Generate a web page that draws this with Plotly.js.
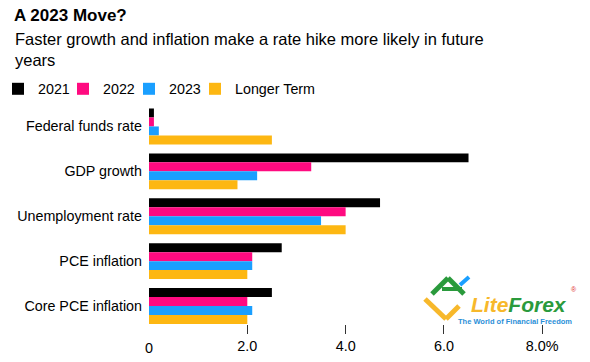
<!DOCTYPE html>
<html>
<head>
<meta charset="utf-8">
<script src="https://cdn.plot.ly/plotly-3.0.1.min.js"></script>
<style>html,body{margin:0;padding:0;background:#fff;}#chart{width:590px;height:362px;}</style>
</head>
<body>
<div id="chart"></div>
<script>
const categories = ['Federal funds rate', 'GDP growth', 'Unemployment rate', 'PCE inflation', 'Core PCE inflation'];
const seriesNames = ['2021', '2022', '2023', 'Longer Term'];
const v2021 = [0.1, 6.5, 4.7, 2.7, 2.5];
const v2022 = [0.1, 3.3, 4.0, 2.1, 2.0];
const v2023 = [0.2, 2.2, 3.5, 2.1, 2.1];
const vLonger = [2.5, 1.8, 4.0, 2.0, 2.0];
const tickVals = [2, 4, 6, 8];
const tickText = ['2.0', '4.0', '6.0', '8.0%'];

const colors = ['#000000', '#ff0a80', '#1a9fff', '#fdb712'];
const allValues = [v2021, v2022, v2023, vLonger];
const FONT = '"Liberation Sans", Arial, Helvetica, sans-serif';
const legendIds = ['legend', 'legend2', 'legend3', 'legend4'];
const legendStartPx = [-2, 63, 129, 195];

const traces = allValues.map((vals, i) => ({
  type: 'bar',
  orientation: 'h',
  name: seriesNames[i],
  legend: legendIds[i],
  x: vals,
  y: categories,
  marker: {color: colors[i]},
  hoverinfo: 'skip'
}));

// plot area geometry (pixels)
const L = 149, R = 33, T = 104, B = 38;
const W = 590 - L - R, H = 362 - T - B;
const px = (x) => (x - L) / W;
const py = (y) => (362 - B - y) / H;

function seg(x0, y0, x1, y1, color, w) {
  return {type: 'line', xref: 'paper', yref: 'paper', x0: px(x0), y0: py(y0), x1: px(x1), y1: py(y1),
          line: {color: color, width: w}, layer: 'above'};
}

const layout = {
  width: 590, height: 362,
  margin: {l: L, r: R, t: T, b: B, pad: 0, autoexpand: false},
  paper_bgcolor: '#ffffff', plot_bgcolor: '#ffffff',
  font: {family: FONT, color: '#000', size: 14.3},
  barmode: 'group', bargap: 0.2, bargroupgap: 0,
  showlegend: true,
  title: {
    text: '<b>A 2023 Move?</b>',
    font: {family: FONT, size: 17, color: '#000'},
    xref: 'container', yref: 'container', x: 14 / 590, xanchor: 'left', y: 1 - 9 / 362, yanchor: 'top'
  },
  xaxis: {
    range: [0, 8.3], showgrid: false, zeroline: false, showline: false,
    tickmode: 'array', tickvals: tickVals, ticktext: tickText,
    ticks: 'outside', ticklen: 9, tickwidth: 1, tickcolor: '#333',
    tickfont: {family: FONT, size: 14.4, color: '#000'}, fixedrange: true
  },
  yaxis: {
    type: 'category', categoryorder: 'array', categoryarray: categories,
    range: [4.4, -0.5], showgrid: false, zeroline: false, showline: false, ticks: '',
    ticklabelstandoff: 6,
    tickfont: {family: FONT, size: 14.3, color: '#000'}, fixedrange: true
  },
  annotations: [
    {text: 'Faster growth and inflation make a rate hike more likely in future<br>years',
     xref: 'paper', yref: 'paper', x: px(13), y: py(28), xanchor: 'left', yanchor: 'top', align: 'left',
     showarrow: false, font: {family: FONT, size: 16.5, color: '#000'}},
    {text: '0', xref: 'x', yref: 'paper', x: 0, y: py(348), xanchor: 'center', yanchor: 'middle',
     showarrow: false, font: {family: FONT, size: 14.4, color: '#000'}},
    {text: '<i><b><span style="color:#f7b82b">Lite</span><span style="color:#2a9a3c">Forex</span></b></i>',
     xref: 'paper', yref: 'paper', x: px(519), y: py(304), xanchor: 'center', yanchor: 'middle',
     showarrow: false, font: {family: FONT, size: 21}},
    {text: '<b>The World of Financial Freedom</b>',
     xref: 'paper', yref: 'paper', x: px(515), y: py(321), xanchor: 'center', yanchor: 'middle',
     showarrow: false, font: {family: FONT, size: 7.5, color: '#2a8fd8'}},
    {text: '®', xref: 'paper', yref: 'paper', x: px(574), y: py(289), xanchor: 'center', yanchor: 'middle',
     showarrow: false, font: {family: FONT, size: 7, color: '#e03030'}}
  ],
  shapes: [
    seg(425, 299, 446, 319, '#f7b82b', 5),
    seg(446, 319, 459, 306, '#f7b82b', 5),
    seg(432, 294, 448, 278, '#2a9a3c', 5),
    seg(448, 278, 464, 294, '#2a9a3c', 5),
    seg(442, 289, 462, 289, '#2a9a3c', 4),
    seg(460, 285, 469, 277, '#1a9fff', 4)
  ]
};

legendIds.forEach((id, i) => {
  layout[id] = {
    orientation: 'h', x: px(legendStartPx[i]), xanchor: 'left', y: py(89), yanchor: 'middle',
    font: {family: FONT, size: 14.3, color: '#000'},
    itemclick: false, itemdoubleclick: false, itemwidth: 30,
    bgcolor: 'rgba(0,0,0,0)', borderwidth: 0
  };
});

Plotly.newPlot('chart', traces, layout, {displayModeBar: false, staticPlot: true});
</script>
</body>
</html>
